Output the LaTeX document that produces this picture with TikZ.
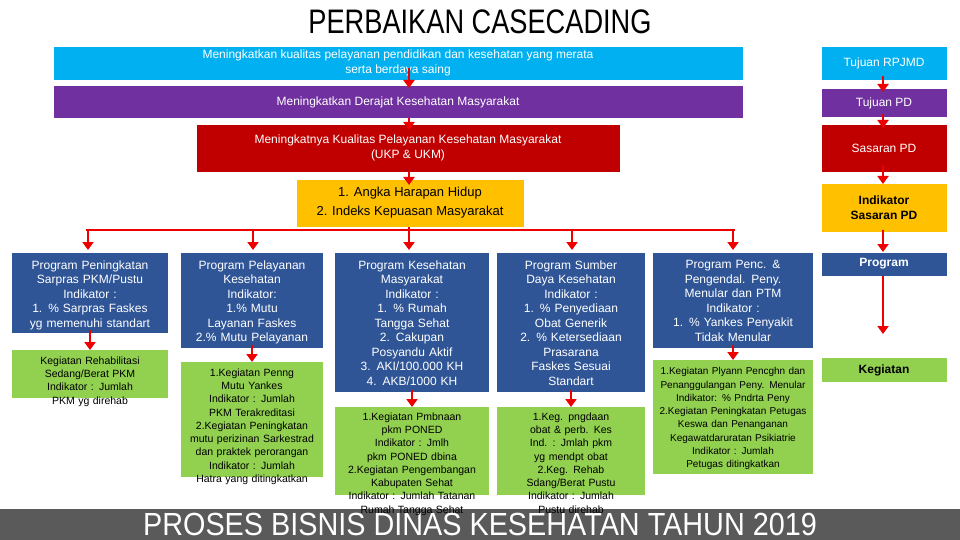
\documentclass[tikz,border=0pt]{standalone}
\usepackage{fontspec}
\setmainfont{Liberation Sans}
\usetikzlibrary{arrows.meta}
\definecolor{cyanbox}{RGB}{0,176,240}
\definecolor{purplebox}{RGB}{112,48,160}
\definecolor{redbox}{RGB}{192,0,0}
\definecolor{yellowbox}{RGB}{255,192,0}
\definecolor{bluebox}{RGB}{47,85,151}
\definecolor{greenbox}{RGB}{146,208,80}
\definecolor{arrowred}{RGB}{238,0,0}
\definecolor{bandgrey}{RGB}{90,90,90}
\hyphenpenalty=10000
\begin{document}
\begin{tikzpicture}[x=1pt,y=-1pt,
    txt/.style={align=center,font=\fontsize{12}{14.5}\selectfont},
    kegtxt/.style={align=center,font=\fontsize{10.5}{13.3}\selectfont},
    flow/.style={arrowred,line width=2.5pt,-{Triangle[length=8pt,width=11pt]}}]
    \useasboundingbox (0,0) rectangle (960,540);
    \fill[white] (0,0) rectangle (960,540);

    % Title
    \node (title) at (480,22) {\fontsize{34}{34}\selectfont\addfontfeature{FakeStretch=0.8}PERBAIKAN CASECADING};

    % Main column
    \fill[cyanbox] (54,47) rectangle (743,80);
    \node[txt,white] (tujuanrpjmd) at (398,63) {Meningkatkan kualitas pelayanan pendidikan dan kesehatan yang merata\\serta berdaya saing};
    \fill[purplebox] (54,86) rectangle (743,118);
    \node[txt,white] (tujuanpd) at (398,102) {Meningkatkan Derajat Kesehatan Masyarakat};
    \fill[redbox] (197,125) rectangle (620,172);
    \node[txt,white] (sasaranpd) at (408,148) {Meningkatnya Kualitas Pelayanan Kesehatan Masyarakat\\(UKP \& UKM)};
    \fill[yellowbox] (297,180) rectangle (524,227);
    \node[txt,font=\fontsize{13}{19}\selectfont] (indikator) at (410,203) {1. Angka Harapan Hidup\\2. Indeks Kepuasan Masyarakat};
    \coordinate (a1) at (409,68);
    \coordinate (a2) at (409,118);
    \coordinate (a3) at (409,172);
    \draw[flow] (a1) -- (409,88);
    \draw[flow] (a2) -- (409,130);
    \draw[flow] (a3) -- (409,185);

    % Right legend column
    \fill[cyanbox] (822,47) rectangle (947,80);
    \node[txt,white] (lrpjmd) at (884,63) {Tujuan RPJMD};
    \fill[purplebox] (822,89) rectangle (947,117);
    \node[txt,white] (lpd) at (884,103) {Tujuan PD};
    \fill[redbox] (822,125) rectangle (947,172);
    \node[txt,white] (lsasaran) at (884,148) {Sasaran PD};
    \fill[yellowbox] (822,184) rectangle (947,232);
    \node[txt,font=\fontsize{12}{15}\bfseries] (lindikator) at (884,208) {Indikator\\Sasaran PD};
    \fill[bluebox] (822,253) rectangle (947,276);
    \node[txt,white,font=\fontsize{12}{15}\bfseries] (lprogram) at (884,264) {Program};
    \fill[greenbox] (822,358) rectangle (947,382);
    \node[txt,font=\fontsize{12}{15}\bfseries] (lkegiatan) at (884,370) {Kegiatan};
    \draw[flow] (883,76) -- (883,92);
    \draw[flow] (883,114) -- (883,128);
    \draw[flow] (883,165) -- (883,184);
    \draw[flow] (883,230) -- (883,252);
    \draw[flow] (883,276) -- (883,334);

    % Branching
    \coordinate (split) at (409,227);
    \draw[arrowred,line width=2.5pt] (86,230) -- (735,230);
    \draw[arrowred,line width=2.5pt] (split) -- (409,230);
    \foreach \xx in {88,253,409,572,733}
        \draw[flow] (\xx,229) -- (\xx,250);

    % Program boxes
    \fill[bluebox] (12,253) rectangle (168,333);
    \node[txt,white,anchor=north,text width=146pt] (prog1) at (90,257) {Program Peningkatan Sarpras PKM/Pustu\\Indikator :\\1. \% Sarpras Faskes yg memenuhi standart};
    \fill[bluebox] (181,253) rectangle (323,348);
    \node[txt,white,anchor=north,text width=120pt] (prog2) at (252,257) {Program Pelayanan Kesehatan\\Indikator:\\1.\% Mutu Layanan Faskes\\2.\% Mutu Pelayanan};
    \fill[bluebox] (335,253) rectangle (489,392);
    \node[txt,white,anchor=north,text width=134pt] (prog3) at (412,257) {Program Kesehatan Masyarakat\\Indikator :\\1. \% Rumah Tangga Sehat\\2. Cakupan Posyandu Aktif\\3. AKI/100.000 KH\\4. AKB/1000 KH};
    \fill[bluebox] (497,253) rectangle (645,392);
    \node[txt,white,anchor=north,text width=134pt] (prog4) at (571,257) {Program Sumber Daya Kesehatan\\Indikator :\\1. \% Penyediaan Obat Generik\\2. \% Ketersediaan Prasarana Faskes Sesuai\\Standart};
    \fill[bluebox] (653,253) rectangle (813,348);
    \node[txt,white,anchor=north,text width=150pt] (prog5) at (733,257) {Program Penc. \&\\Pengendal. Peny. Menular dan PTM\\Indikator :\\1. \% Yankes Penyakit Tidak Menular};

    % Arrows program -> kegiatan
    \draw[flow] (90,330) -- (90,350);
    \draw[flow] (252,345) -- (252,362);
    \draw[flow] (412,390) -- (412,407);
    \draw[flow] (571,390) -- (571,407);
    \draw[flow] (733,345) -- (733,360);

    % Bottom band
    \fill[bandgrey] (0,509) rectangle (960,540);
    \node[text=white] (bandtext) at (480,524) {\fontsize{32}{32}\selectfont\addfontfeature{FakeStretch=0.9}PROSES BISNIS DINAS KESEHATAN TAHUN 2019};

    % Kegiatan boxes
    \fill[greenbox] (12,350) rectangle (168,398);
    \node[kegtxt,anchor=north,text width=146pt] (keg1) at (90,353) {Kegiatan Rehabilitasi Sedang/Berat PKM\\Indikator : Jumlah PKM yg direhab};
    \fill[greenbox] (181,362) rectangle (323,477);
    \node[kegtxt,anchor=north,text width=132pt] (keg2) at (252,365) {1.Kegiatan Penng Mutu Yankes\\Indikator : Jumlah PKM Terakreditasi\\2.Kegiatan Peningkatan mutu perizinan Sarkestrad dan praktek perorangan\\Indikator : Jumlah Hatra yang ditingkatkan};
    \fill[greenbox] (335,407) rectangle (489,495);
    \node[kegtxt,anchor=north,text width=146pt] (keg3) at (412,409) {1.Kegiatan Pmbnaan pkm PONED\\Indikator : Jmlh pkm PONED dbina\\2.Kegiatan Pengembangan Kabupaten Sehat\\Indikator : Jumlah Tatanan Rumah Tangga Sehat};
    \fill[greenbox] (497,407) rectangle (645,495);
    \node[kegtxt,anchor=north,text width=134pt] (keg4) at (571,409) {1.Keg. pngdaan obat \& perb. Kes\\Ind. : Jmlah pkm yg mendpt obat\\2.Keg. Rehab Sdang/Berat Pustu\\Indikator : Jumlah Pustu direhab};
    \fill[greenbox] (653,360) rectangle (813,474);
    \node[kegtxt,anchor=north,text width=156pt,font=\fontsize{10}{13.3}\selectfont] (keg5) at (733,364) {1.Kegiatan Plyann Pencghn dan Penanggulangan Peny. Menular\\Indikator: \% Pndrta Peny\\2.Kegiatan Peningkatan Petugas Keswa dan Penanganan Kegawatdaruratan Psikiatrie\\Indikator : Jumlah Petugas ditingkatkan};
\end{tikzpicture}
\end{document}
